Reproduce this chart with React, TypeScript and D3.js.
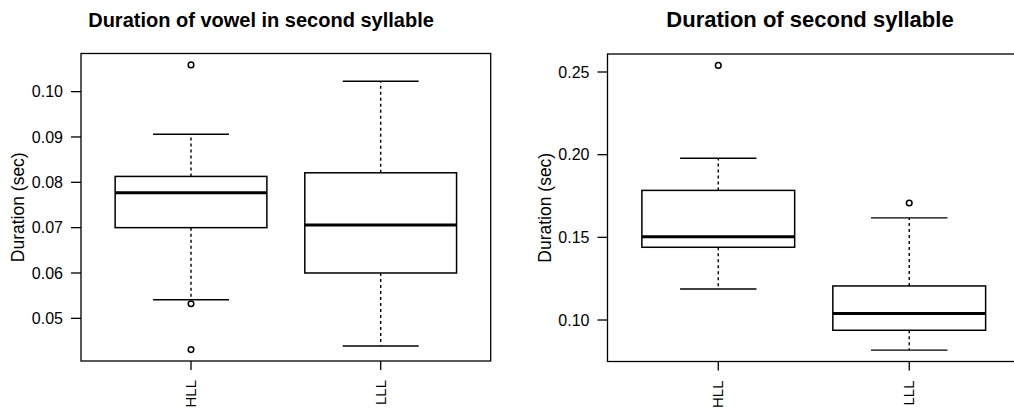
import React, { useEffect, useRef } from 'react';
import * as d3 from 'd3';

const groups = ['HLL', 'LLL'];

// five-number summaries
const vowelLow = [0.0541, 0.0439];
const vowelQ1 = [0.07, 0.06];
const vowelMedian = [0.0777, 0.0706];
const vowelQ3 = [0.0813, 0.0821];
const vowelHigh = [0.0906, 0.1023];
const vowelOutliers = [[0.1059, 0.0532, 0.0431], []];
const vowelTicks = [0.05, 0.06, 0.07, 0.08, 0.09, 0.1];

const syllLow = [0.1188, 0.0818];
const syllQ1 = [0.144, 0.0938];
const syllMedian = [0.1504, 0.1039];
const syllQ3 = [0.1784, 0.1206];
const syllHigh = [0.1978, 0.1618];
const syllOutliers = [[0.254], [0.1708]];
const syllTicks = [0.1, 0.15, 0.2, 0.25];

const font = '"Liberation Sans", Arial, Helvetica, sans-serif';

function drawPanel(svg, opts) {
  const { x0, x1, y0, y1, title, titleX, titleSize, low, q1, med, q3, high, outliers, ticks, labelX } = opts;

  // R-style 4% expansion of the data range
  const all = [...low, ...high, ...outliers.flat()];
  const mn = d3.min(all), mx = d3.max(all);
  const pad = (mx - mn) * 0.04;
  const y = d3.scaleLinear().domain([mn - pad, mx + pad]).range([y1, y0]);
  const x = d3.scaleLinear().domain([0.42, 2.58]).range([x0, x1]);

  const g = svg.append('g');
  const boxW = x(1.4) - x(0.6);
  const capW = boxW / 2;

  groups.forEach((name, i) => {
    const cx = x(i + 1);
    // whiskers
    g.append('line')
      .attr('x1', cx).attr('x2', cx)
      .attr('y1', y(q3[i])).attr('y2', y(high[i]))
      .attr('stroke', '#000').attr('stroke-width', 1.4).attr('stroke-dasharray', '3,3');
    g.append('line')
      .attr('x1', cx).attr('x2', cx)
      .attr('y1', y(q1[i])).attr('y2', y(low[i]))
      .attr('stroke', '#000').attr('stroke-width', 1.4).attr('stroke-dasharray', '3,3');
    // caps
    [low[i], high[i]].forEach(v => {
      g.append('line')
        .attr('x1', cx - capW / 2).attr('x2', cx + capW / 2)
        .attr('y1', y(v)).attr('y2', y(v))
        .attr('stroke', '#000').attr('stroke-width', 1.4);
    });
    // box
    g.append('rect')
      .attr('x', cx - boxW / 2).attr('y', y(q3[i]))
      .attr('width', boxW).attr('height', y(q1[i]) - y(q3[i]))
      .attr('fill', 'none').attr('stroke', '#000').attr('stroke-width', 1.5);
    g.append('line')
      .attr('x1', cx - boxW / 2).attr('x2', cx + boxW / 2)
      .attr('y1', y(med[i])).attr('y2', y(med[i]))
      .attr('stroke', '#000').attr('stroke-width', 3);
    // outliers
    outliers[i].forEach(v => {
      g.append('circle')
        .attr('cx', cx).attr('cy', y(v)).attr('r', 2.8)
        .attr('fill', 'none').attr('stroke', '#000').attr('stroke-width', 1.5);
    });
    // x tick + label
    g.append('line')
      .attr('x1', cx).attr('x2', cx).attr('y1', y1).attr('y2', y1 + 9)
      .attr('stroke', '#000').attr('stroke-width', 1.3);
    g.append('text')
      .attr('transform', `translate(${cx + 5},${y1 + 19}) rotate(-90)`)
      .attr('text-anchor', 'end')
      .style('font-family', font).style('font-size', '15px')
      .text(name);
  });

  // frame
  g.append('rect')
    .attr('x', x0).attr('y', y0).attr('width', x1 - x0).attr('height', y1 - y0)
    .attr('fill', 'none').attr('stroke', '#000').attr('stroke-width', 1.3);

  // y axis
  ticks.forEach(t => {
    g.append('line')
      .attr('x1', x0 - 10).attr('x2', x0).attr('y1', y(t)).attr('y2', y(t))
      .attr('stroke', '#000').attr('stroke-width', 1.3);
    g.append('text')
      .attr('x', x0 - 18).attr('y', y(t)).attr('dy', '0.36em')
      .attr('text-anchor', 'end')
      .style('font-family', font).style('font-size', '16px')
      .text(d3.format('.2f')(t));
  });

  g.append('text')
    .attr('transform', `translate(${labelX},${(y0 + y1) / 2}) rotate(-90)`)
    .attr('text-anchor', 'middle')
    .style('font-family', font).style('font-size', '17.5px')
    .text('Duration (sec)');

  g.append('text')
    .attr('x', titleX).attr('y', 27)
    .attr('text-anchor', 'middle')
    .style('font-family', font).style('font-size', `${titleSize}px`).style('font-weight', 'bold')
    .text(title);
}

export default function App() {
  const svgRef = useRef(null);

  useEffect(() => {
    const svg = d3.select(svgRef.current);
    svg.selectAll('*').remove();

    drawPanel(svg, {
      x0: 81, x1: 490.7, y0: 53.5, y1: 361,
      title: 'Duration of vowel in second syllable', titleX: 261, titleSize: 20,
      low: vowelLow, q1: vowelQ1, med: vowelMedian, q3: vowelQ3, high: vowelHigh,
      outliers: vowelOutliers, ticks: vowelTicks, labelX: 24
    });

    drawPanel(svg, {
      x0: 607.5, x1: 1020, y0: 54, y1: 361.5,
      title: 'Duration of second syllable', titleX: 810, titleSize: 22,
      low: syllLow, q1: syllQ1, med: syllMedian, q3: syllQ3, high: syllHigh,
      outliers: syllOutliers, ticks: syllTicks, labelX: 551
    });
  }, []);

  return (
    <svg
      ref={svgRef}
      width={1014}
      height={413}
      style={{ position: 'absolute', left: 0, top: 0, background: '#fff' }}
    />
  );
}
